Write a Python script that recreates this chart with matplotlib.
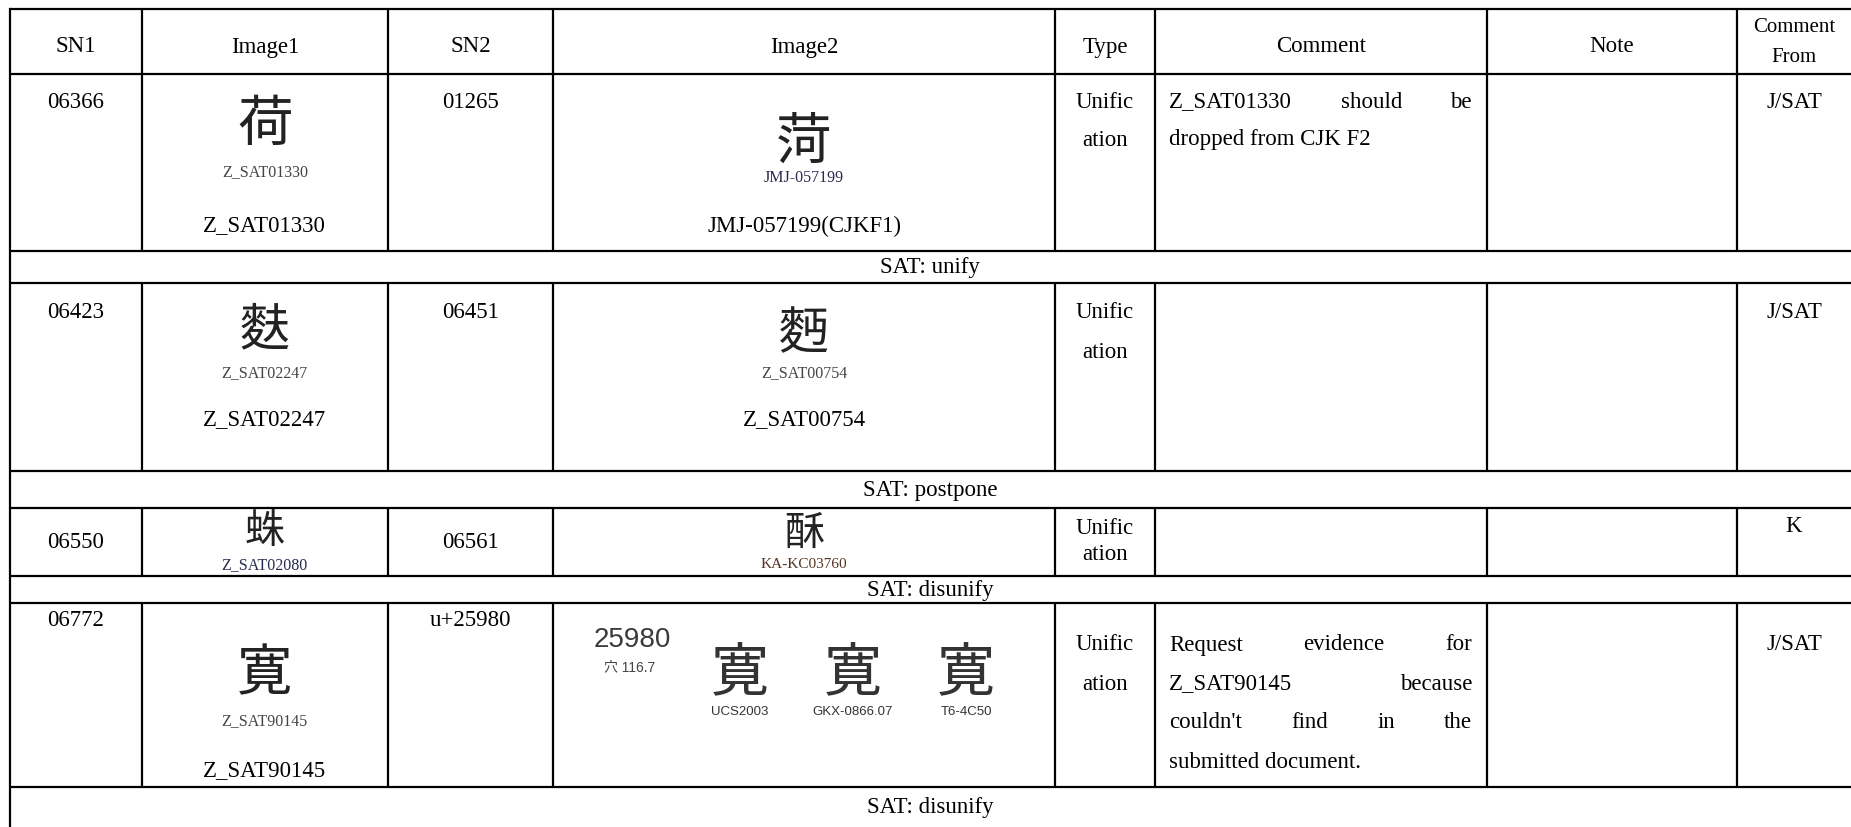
import matplotlib
matplotlib.use("Agg")
import matplotlib.pyplot as plt

W, H = 1851, 827

# ---------------- data ----------------
headers = ["SN1", "Image1", "SN2", "Image2", "Type", "Comment", "Note"]
header_last = ["Comment", "From"]
sn1 = ["06366", "06423", "06550", "06772"]
image1_glyph = ["荷", "麩", "蛛", "寛"]
image1_small = ["Z_SAT01330", "Z_SAT02247", "Z_SAT02080", "Z_SAT90145"]
image1_caption = ["Z_SAT01330", "Z_SAT02247", "", "Z_SAT90145"]
sn2 = ["01265", "06451", "06561", "u+25980"]
image2_glyph = ["菏", "麪", "酥", ""]
image2_small = ["JMJ-057199", "Z_SAT00754", "KA-KC03760", ""]
image2_caption = ["JMJ-057199(CJKF1)", "Z_SAT00754", "", ""]
type_lines = ["Unific", "ation"]
comments = [["Z_SAT01330 should be", "dropped from CJK F2"], [], [],
            ["Request evidence for", "Z_SAT90145 because",
             "couldn't find in the", "submitted document."]]
comment_from = ["J/SAT", "J/SAT", "K", "J/SAT"]
decisions = ["SAT: unify", "SAT: postpone", "SAT: disunify", "SAT: disunify"]
ucs_code = "25980"
ucs_radical = "穴 116.7"
ucs_glyph = "寛"
ucs_sources = ["UCS2003", "GKX-0866.07", "T6-4C50"]

# ---------------- layout ----------------
col_x = [9.5, 141.6, 388, 553, 1055, 1155, 1487, 1737, 1851]
y_top = 9
header_bottom = 74
rows = [(74, 251), (283, 471), (508, 576), (603, 787)]
sat_rows = [(251, 283), (471, 508), (576, 603), (787, 827)]

SERIF = "Liberation Serif"
SANS = "Liberation Sans"
CJK = ["Noto Sans CJK JP", "DejaVu Sans"]
FS = 16.5
LW = 1.6

fig = plt.figure(figsize=(W / 100, H / 100), dpi=100)
ax = fig.add_axes([0, 0, 1, 1])
ax.set_xlim(0, W)
ax.set_ylim(H, 0)
ax.axis("off")

# grid lines
hl = [y_top, header_bottom] + [r[0] for r in rows] + [r[1] for r in rows]
for y in sorted(set(hl)):
    ax.plot([col_x[0], W], [y, y], color="black", lw=LW, solid_capstyle="butt")
ax.plot([col_x[0], col_x[0]], [y_top, H], color="black", lw=LW)
segments = [(y_top, header_bottom)] + rows
for x in col_x[1:-1]:
    for (a, b) in segments:
        ax.plot([x, x], [a, b], color="black", lw=LW, solid_capstyle="butt")


def cx(i):
    return (col_x[i] + col_x[i + 1]) / 2


def txt(x, y, s, fs=FS, ha="center", family=SERIF, color="black", **kw):
    return ax.text(x, y, s, fontsize=fs, ha=ha, va="center",
                   family=family, color=color, **kw)


# header
for i, h in enumerate(headers):
    txt(cx(i), 47, h)
txt(cx(7), 27, header_last[0], fs=15)
txt(cx(7), 58, header_last[1], fs=15)

fig.canvas.draw()
renderer = fig.canvas.get_renderer()


def justify(line, x0, x1, y, last=False):
    words = line.split()
    if last or len(words) == 1:
        txt(x0, y, line, ha="left")
        return
    ts = [txt(0, y, w, ha="left") for w in words]
    widths = [t.get_window_extent(renderer).width for t in ts]
    gap = (x1 - x0 - sum(widths)) / (len(words) - 1)
    x = x0
    for t, wd in zip(ts, widths):
        t.set_x(x)
        x += wd + gap


# per-row vertical offsets (from the row's top line)
layout = [
    dict(sn=28, typ=28, step=38, g1=51, s1=98, c1=152, g2=69, s2=104, c2=152, gfs=40),
    dict(sn=30, typ=30, step=39, g1=47, s1=90, c1=137, g2=51, s2=90, c2=137, gfs=36),
    None,
    dict(sn=18, typ=42, step=39, g1=72, s1=118, c1=168, gfs=40),
]

for r, (top, bot) in enumerate(rows):
    if r == 2:
        mid = (top + bot) / 2
        txt(cx(0), mid, sn1[r])
        txt(cx(2), mid, sn2[r])
        txt(cx(4), mid - 13, type_lines[0])
        txt(cx(4), mid + 13, type_lines[1])
        txt(cx(7), mid - 16, comment_from[r])
        txt(cx(1), top + 24, image1_glyph[r], fs=29, family=CJK, color="#222222")
        txt(cx(1), top + 57, image1_small[r], fs=11.5, color="#2a2a50")
        txt(cx(3), top + 25, image2_glyph[r], fs=29, family=CJK, color="#222222")
        txt(cx(3), top + 57, image2_small[r], fs=11, color="#553322")
        continue
    L = layout[r]
    y1 = top + L["sn"]
    yt = top + L["typ"]
    txt(cx(0), y1, sn1[r])
    txt(cx(2), y1, sn2[r])
    txt(cx(4), yt, type_lines[0])
    txt(cx(4), yt + L["step"], type_lines[1])
    txt(cx(7), yt, comment_from[r])
    for k, line in enumerate(comments[r]):
        justify(line, col_x[5] + 14, col_x[6] - 15, yt + k * L["step"],
                last=(k == len(comments[r]) - 1))
    txt(cx(1), top + L["g1"], image1_glyph[r], fs=L["gfs"], family=CJK, color="#222222")
    txt(cx(1), top + L["s1"], image1_small[r], fs=11.5, color="#444444")
    if image1_caption[r]:
        txt(cx(1), top + L["c1"], image1_caption[r])
    if image2_glyph[r]:
        txt(cx(3), top + L["g2"], image2_glyph[r], fs=L["gfs"], family=CJK, color="#222222")
        scol = "#2a2a50" if r == 0 else "#444444"
        txt(cx(3), top + L["s2"], image2_small[r], fs=11.5, color=scol)
        if image2_caption[r]:
            txt(cx(3), top + L["c2"], image2_caption[r])
    if r == 3:
        txt(632, top + 37, ucs_code, fs=20, family=SANS, color="#3a3a3a")
        txt(630, top + 64, ucs_radical, fs=10, family=[SANS, "Noto Sans CJK JP"],
            color="#444444")
        for gx, src in zip([740, 853, 966], ucs_sources):
            txt(gx, top + 72, ucs_glyph, fs=42, family=CJK, color="#333333")
            txt(gx, top + 109, src, fs=9.5, family=SANS, color="#333333")

for (a, b), d in zip(sat_rows, decisions):
    txt((col_x[0] + W) / 2, (a + b) / 2 + 1, d)

fig.savefig("out.png", dpi=100)
